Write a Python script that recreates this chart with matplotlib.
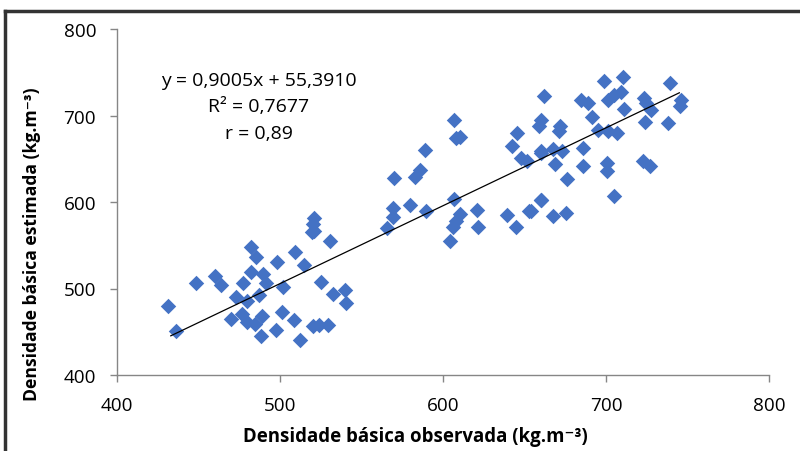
import matplotlib
matplotlib.use("Agg")
import matplotlib.pyplot as plt
import numpy as np

observed = [431.2, 436.0, 448.7, 460.0, 464.1, 477.0, 482.1, 485.0, 482.5, 489.3,
            491.7, 497.9, 502.0, 509.5, 514.9, 519.9, 530.7, 525.2, 532.8, 540.0,
            540.4, 472.9, 487.2, 479.5, 470.2, 476.4, 479.5, 484.6, 488.7, 488.3,
            497.5, 501.4, 508.8, 512.3, 520.5, 524.2, 529.7, 521.0, 520.5, 521.0,
            607.7, 610.5, 606.5, 588.8, 569.7, 585.7, 583.0, 642.5, 645.6, 647.7,
            651.8, 660.0, 607.0, 569.1, 580.0, 589.8, 569.1, 565.6, 610.7, 607.7,
            606.2, 604.2, 621.0, 621.6, 639.5, 644.6, 652.8, 660.0,
            698.9, 710.6, 739.3, 662.0, 684.6, 688.7, 701.0, 705.1, 709.2, 723.5,
            724.6, 711.2, 746.1, 745.1, 727.7, 691.3, 660.0, 658.9, 671.8, 671.2,
            694.8, 701.4, 706.7, 724.2, 737.9, 660.0, 667.2, 673.3, 685.6, 668.6,
            685.6, 700.6, 700.6, 676.0, 722.5, 727.2, 705.1, 660.4, 653.8, 667.2,
            675.3]
estimated = [479.2, 451.0, 506.8, 514.5, 503.7, 506.8, 548.3, 536.8, 519.0, 516.4,
             506.8, 531.0, 502.2, 542.3, 526.8, 565.2, 554.8, 508.0, 494.2, 498.4,
             483.8, 490.3, 492.2, 485.6, 465.3, 470.3, 460.7, 458.8, 467.7, 444.6,
             451.9, 473.0, 463.7, 440.3, 456.8, 457.6, 457.6, 581.0, 575.0, 567.0,
             673.9, 675.0, 695.0, 659.7, 627.9, 637.5, 629.0, 665.0, 679.8, 651.0,
             647.0, 656.7, 604.0, 592.5, 596.0, 589.4, 583.0, 570.3, 585.6, 577.9,
             571.0, 554.8, 590.6, 571.0, 584.4, 571.4, 589.4, 602.0,
             740.4, 744.3, 738.1, 722.8, 718.2, 714.3, 718.2, 723.9, 726.6, 720.0,
             714.3, 707.4, 718.2, 710.5, 705.8, 698.2, 695.1, 687.4, 687.4, 681.6,
             683.6, 681.6, 679.8, 692.0, 691.3, 658.6, 661.3, 658.6, 662.5, 644.4,
             641.3, 645.2, 635.5, 626.7, 647.0, 642.1, 606.7, 602.0, 589.4, 583.6,
             587.5]

slope = 0.9005
intercept = 55.3910
line_x = [433.0, 745.0]
x_ticks = [400, 500, 600, 700, 800]
y_ticks = [400, 500, 600, 700, 800]
equation_lines = ['y = 0,9005x + 55,3910', 'R² = 0,7677', 'r = 0,89']
x_label = 'Densidade básica observada (kg.m⁻³)'
y_label = 'Densidade básica estimada (kg.m⁻³)'

plt.rcParams['font.family'] = ['Open Sans', 'DejaVu Sans']

fig = plt.figure(figsize=(8, 4.52), dpi=100)
ax = fig.add_axes([117/800, 1-376/452, 652/800, 346/452])

ax.scatter(observed, estimated, marker='D', s=62, color='#4472C4', linewidths=0, zorder=3)
lx = np.array(line_x)
ax.plot(lx, slope*lx + intercept, color='black', lw=0.9, zorder=4)

ax.set_xlim(400, 800)
ax.set_ylim(400, 800)
ax.set_xticks(x_ticks)
ax.set_yticks(y_ticks)
for s in ['top', 'right']:
    ax.spines[s].set_visible(False)
for s in ['left', 'bottom']:
    ax.spines[s].set_color('#868686')
    ax.spines[s].set_linewidth(1.0)
ax.tick_params(axis='both', colors='#868686', labelcolor='black', labelsize=13.6, length=5, width=1.0, direction='out')
ax.tick_params(axis='x', pad=10)
ax.tick_params(axis='y', pad=10)

for i, t in enumerate(equation_lines):
    fig.text(259/800, 1-(81 + 26.5*i)/452, t, ha='center', va='center', fontsize=14)

fig.text(415/800, 1-437/452, x_label, ha='center', va='center', fontsize=13.4, fontweight='bold')
fig.text(32/800, 1-244/452, y_label, ha='center', va='center', fontsize=12.6, fontweight='bold', rotation=90)

# outer frame lines (left and top)
fig.add_artist(plt.Line2D([5/800, 5/800], [0, 1-12/452], transform=fig.transFigure, color='#333333', lw=2.5))
fig.add_artist(plt.Line2D([5/800, 1.0], [1-12/452, 1-12/452], transform=fig.transFigure, color='#333333', lw=2.5))

fig.savefig('out.png', dpi=100)
